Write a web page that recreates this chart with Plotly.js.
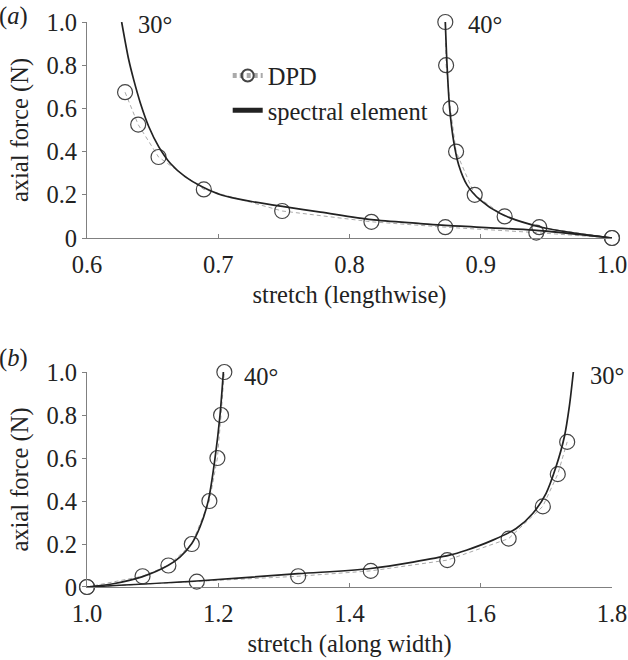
<!DOCTYPE html>
<html>
<head>
<meta charset="utf-8">
<script src="https://cdn.plot.ly/plotly-3.0.1.min.js"></script>
<style>html,body{margin:0;padding:0;background:#fff;}#chart{width:628px;height:660px;}</style>
</head>
<body>
<div id="chart"></div>
<script>
// Panel (a): stretch lengthwise
const a_dpd30_x = [0.629, 0.639, 0.6545, 0.689, 0.7487, 0.8167, 0.873, 0.9423, 1.0];
const a_dpd30_y = [0.675, 0.525, 0.375, 0.225, 0.125, 0.075, 0.05, 0.025, 0];
const a_dpd40_x = [0.873, 0.8736, 0.8769, 0.8812, 0.8954, 0.9182, 0.9446, 1.0];
const a_dpd40_y = [1.0, 0.8, 0.6, 0.4, 0.2, 0.1, 0.05, 0];
const a_se30_x = [0.6264, 0.6318, 0.6356, 0.6407, 0.6471, 0.6547, 0.6636, 0.675, 0.6877, 0.703, 0.7245, 0.75, 0.778, 0.8167, 0.854, 0.873, 0.9403, 1.0];
const a_se30_y = [1.0, 0.825, 0.732, 0.624, 0.515, 0.422, 0.345, 0.283, 0.237, 0.198, 0.17, 0.145, 0.12, 0.085, 0.067, 0.058, 0.036, 0];
const a_se40_x = [0.873, 0.8743, 0.8763, 0.8794, 0.8832, 0.8896, 0.8997, 0.9149, 0.9454, 1.0];
const a_se40_y = [1.0, 0.802, 0.601, 0.446, 0.338, 0.245, 0.175, 0.113, 0.051, 0];

// Panel (b): stretch along width
const b_dpd40_x = [1.0, 1.0846, 1.124, 1.1597, 1.1865, 1.1987, 1.2043, 1.2093];
const b_dpd40_y = [0, 0.05, 0.1, 0.2, 0.4, 0.6, 0.8, 1.0];
const b_dpd30_x = [1.0, 1.1673, 1.3218, 1.4324, 1.549, 1.6425, 1.6946, 1.7174, 1.7317];
const b_dpd30_y = [0, 0.025, 0.05, 0.075, 0.125, 0.225, 0.375, 0.525, 0.675];
const b_se40_x = [1.0, 1.04, 1.0836, 1.124, 1.142, 1.1597, 1.1723, 1.185, 1.1951, 1.2027, 1.2078];
const b_se40_y = [0, 0.015, 0.047, 0.101, 0.14, 0.202, 0.28, 0.404, 0.599, 0.8, 1.0];
const b_se30_x = [1.0, 1.1673, 1.3218, 1.4324, 1.5525, 1.578, 1.6184, 1.654, 1.6792, 1.6996, 1.7148, 1.7275, 1.735, 1.7411];
const b_se30_y = [0, 0.028, 0.062, 0.086, 0.148, 0.171, 0.218, 0.272, 0.342, 0.436, 0.56, 0.7, 0.84, 1.0];

const xTicksA = [0.6, 0.7, 0.8, 0.9, 1.0];
const xTextA = ['0.6', '0.7', '0.8', '0.9', '1.0'];
const xTicksB = [1.0, 1.2, 1.4, 1.6, 1.8];
const xTextB = ['1.0', '1.2', '1.4', '1.6', '1.8'];
const yTicks = [0, 0.2, 0.4, 0.6, 0.8, 1.0];
const yText = ['0', '0.2', '0.4', '0.6', '0.8', '1.0'];

const FONT = 'Liberation Serif';
const FS = 24.5;
const dpdLine = {color: '#aaaaaa', width: 1, dash: '4px,3px'};
const dpdMarker = {symbol: 'circle-open', size: 15, color: '#444444', line: {width: 1.2, color: '#444444'}};
const seLine = {color: '#222222', width: 1.7, shape: 'spline', smoothing: 0.8};

function dpd(x, y, xa, ya, show) {
  return {x: x, y: y, xaxis: xa, yaxis: ya, type: 'scatter', mode: 'lines+markers',
    line: dpdLine, marker: dpdMarker, name: 'DPD', showlegend: show, legendgroup: 'g1', cliponaxis: false};
}
function se(x, y, xa, ya, show) {
  return {x: x, y: y, xaxis: xa, yaxis: ya, type: 'scatter', mode: 'lines',
    line: seLine, name: 'spectral element', showlegend: show, legendgroup: 'g2', cliponaxis: false};
}

const traces = [
  dpd(a_dpd30_x, a_dpd30_y, 'x', 'y', true),
  dpd(a_dpd40_x, a_dpd40_y, 'x', 'y', false),
  se(a_se30_x, a_se30_y, 'x', 'y', true),
  se(a_se40_x, a_se40_y, 'x', 'y', false),
  dpd(b_dpd40_x, b_dpd40_y, 'x2', 'y2', false),
  dpd(b_dpd30_x, b_dpd30_y, 'x2', 'y2', false),
  se(b_se40_x, b_se40_y, 'x2', 'y2', false),
  se(b_se30_x, b_se30_y, 'x2', 'y2', false)
];

const tf = {family: FONT, size: FS, color: '#222'};
const axCommon = {showgrid: false, zeroline: false, showline: true, linecolor: '#808080', linewidth: 1,
  tickcolor: '#808080', ticklen: 4, tickfont: tf};
const xExtra = {ticks: 'inside', ticklabelstandoff: 5};
const yExtra = {ticks: 'outside', range: [0, 1.0], tickvals: yTicks, ticktext: yText};

const layout = {
  width: 628, height: 660,
  margin: {l: 86.5, r: 15.5, t: 22, b: 73},
  paper_bgcolor: '#fff', plot_bgcolor: '#fff',
  font: {family: FONT, color: '#222'},
  showlegend: true,
  legend: {x: 0.268, y: 0.945, xanchor: 'left', yanchor: 'top', bgcolor: 'rgba(0,0,0,0)',
    font: tf, tracegroupgap: 0, itemsizing: 'constant'},
  xaxis: Object.assign({}, axCommon, xExtra, {domain: [0, 1], anchor: 'y', range: [0.6, 1.0], tickvals: xTicksA, ticktext: xTextA,
    title: {text: 'stretch (lengthwise)', font: tf, standoff: 8}}),
  yaxis: Object.assign({}, axCommon, yExtra, {domain: [0.6177, 1], anchor: 'x',
    title: {text: 'axial force (N)', font: tf, standoff: 10}}),
  xaxis2: Object.assign({}, axCommon, xExtra, {domain: [0, 1], anchor: 'y2', range: [1.0, 1.8], tickvals: xTicksB, ticktext: xTextB,
    title: {text: 'stretch (along width)', font: tf, standoff: 8}}),
  yaxis2: Object.assign({}, axCommon, yExtra, {domain: [0, 0.3805], anchor: 'x2',
    title: {text: 'axial force (N)', font: tf, standoff: 10}}),
  annotations: [
    {xref: 'x', yref: 'y', x: 0.637, y: 0.987, text: '30°', showarrow: false, xanchor: 'left', font: tf},
    {xref: 'x', yref: 'y', x: 0.889, y: 0.987, text: '40°', showarrow: false, xanchor: 'left', font: tf},
    {xref: 'x2', yref: 'y2', x: 1.2357, y: 0.978, text: '40°', showarrow: false, xanchor: 'left', font: tf},
    {xref: 'x2', yref: 'y2', x: 1.764, y: 0.983, text: '30°', showarrow: false, xanchor: 'left', font: tf},
    {xref: 'paper', yref: 'paper', x: -0.172, y: 1.01, text: '(<i>a</i>)', showarrow: false, xanchor: 'left', yanchor: 'middle', font: tf},
    {xref: 'paper', yref: 'paper', x: -0.172, y: 0.405, text: '(<i>b</i>)', showarrow: false, xanchor: 'left', yanchor: 'middle', font: tf}
  ]
};

Plotly.newPlot('chart', traces, layout, {displayModeBar: false, staticPlot: true});
</script>
</body>
</html>
